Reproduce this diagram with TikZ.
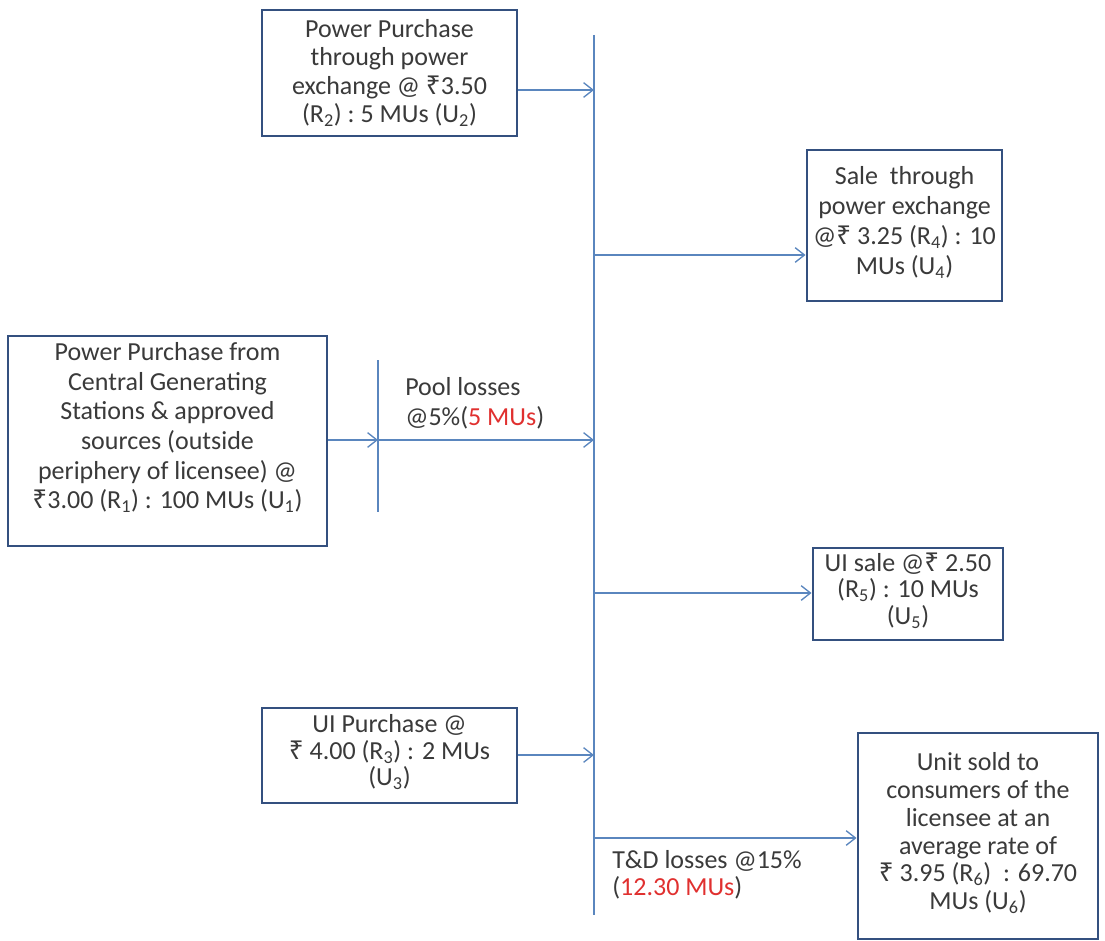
\documentclass[tikz,border=0pt]{standalone}
\usepackage{fontspec}
\setmainfont{Carlito}
\newfontfamily\rupeefont{Noto Sans}
\newcommand\Rs{{\rupeefont ₹}}
\usetikzlibrary{arrows.meta}
\definecolor{boxline}{HTML}{34507F}
\definecolor{conn}{HTML}{5A86BE}
\definecolor{txt}{HTML}{3A3A3A}
\definecolor{lossred}{HTML}{E0302F}
\tikzset{
  boxframe/.style={draw=boxline, line width=2.2pt, fill=white, inner sep=0pt},
  boxtext/.style={align=center, text=txt, inner sep=0pt,
    font=\fontsize{19.5}{#1}\selectfont},
  boxtext/.default=22,
  conline/.style={draw=conn, line width=1.1pt},
  arr/.style={conline, -{Straight Barb[length=7pt,width=11pt,line width=1pt]}},
  lbl/.style={align=left, text=txt, inner sep=0pt, anchor=west,
    font=\fontsize{19.5}{#1}\selectfont},
  lbl/.default=22
}
\begin{document}
\begin{tikzpicture}[x=0.75pt,y=-0.75pt]
\useasboundingbox (0,0) rectangle (1105,941);
% boxes
\node[boxframe, minimum width=255*0.75pt, minimum height=126*0.75pt] (top) at (389.5,73) {};
\node[boxtext=21.4] (toptext) at ([yshift=0pt]top.center)
  {Power Purchase\\through power\\exchange @ \Rs3.50\\(R\textsubscript{2}) :\ 5 MUs (U\textsubscript{2})};
\node[boxframe, minimum width=195*0.75pt, minimum height=151*0.75pt] (sale) at (904.5,225.5) {};
\node[boxtext=22.5] (saletext) at ([yshift=2.5pt]sale.center)
  {Sale\ \ through\\power exchange\\@\Rs\ 3.25 (R\textsubscript{4}) : 10\\MUs (U\textsubscript{4})};
\node[boxframe, minimum width=319*0.75pt, minimum height=210*0.75pt] (cgs) at (167.5,441) {};
\node[boxtext=22.2] (cgstext) at ([yshift=10pt]cgs.center)
  {Power Purchase from\\Central Generating\\Stations \& approved\\sources (outside\\periphery of licensee) @\\\Rs3.00 (R\textsubscript{1}) : 100 MUs (U\textsubscript{1})};
\node[boxframe, minimum width=190*0.75pt, minimum height=92*0.75pt] (uisale) at (908,594) {};
\node[boxtext=20] (uisaletext) at ([yshift=2.5pt]uisale.center)
  {UI sale @\Rs\ 2.50\\(R\textsubscript{5}) : 10 MUs\\(U\textsubscript{5})};
\node[boxframe, minimum width=255*0.75pt, minimum height=95*0.75pt] (uipur) at (389.5,755.5) {};
\node[boxtext=20] (uipurtext) at ([yshift=2.5pt]uipur.center)
  {UI Purchase @\\\Rs\ 4.00 (R\textsubscript{3}) : 2 MUs\\(U\textsubscript{3})};
\node[boxframe, minimum width=240*0.75pt, minimum height=206*0.75pt] (sold) at (978,836) {};
\node[boxtext=20.8] (soldtext) at ([yshift=2pt]sold.center)
  {Unit sold to\\consumers of the\\licensee at an\\average rate of\\\Rs\ 3.95 (R\textsubscript{6})\ \ : 69.70\\MUs (U\textsubscript{6})};
% bus
\coordinate (bustop) at (594,35);
\coordinate (busbot) at (594,915);
\draw[conline] (bustop) -- (busbot);
\coordinate (b1) at (594,90);
\coordinate (b2) at (594,255);
\coordinate (b3) at (594,440);
\coordinate (b4) at (594,593);
\coordinate (b5) at (594,755);
\coordinate (b6) at (594,838);
% junction line
\coordinate (jtop) at (378,360);
\coordinate (jbot) at (378,512);
\coordinate (j) at (378,440);
\draw[conline] (jtop) -- (jbot);
% arrows
\draw[arr] (top.east |- b1) -- (b1);
\draw[arr] (b2) -- (sale.west |- b2);
\draw[arr] (cgs.east |- j) -- (j);
\draw[arr] (j) -- (b3);
\draw[arr] (b4) -- (uisale.west |- b4);
\draw[arr] (uipur.east |- b5) -- (b5);
\draw[arr] (b6) -- (sold.west |- b6);
% labels
\node[lbl=22.5] (pool) at (405,403) {Pool losses\\@5\%(\textcolor{lossred}{5 MUs})};
\node[lbl=20] (td) at (612,875) {T\&D losses @15\%\\(\textcolor{lossred}{12.30 MUs})};
\end{tikzpicture}
\end{document}
